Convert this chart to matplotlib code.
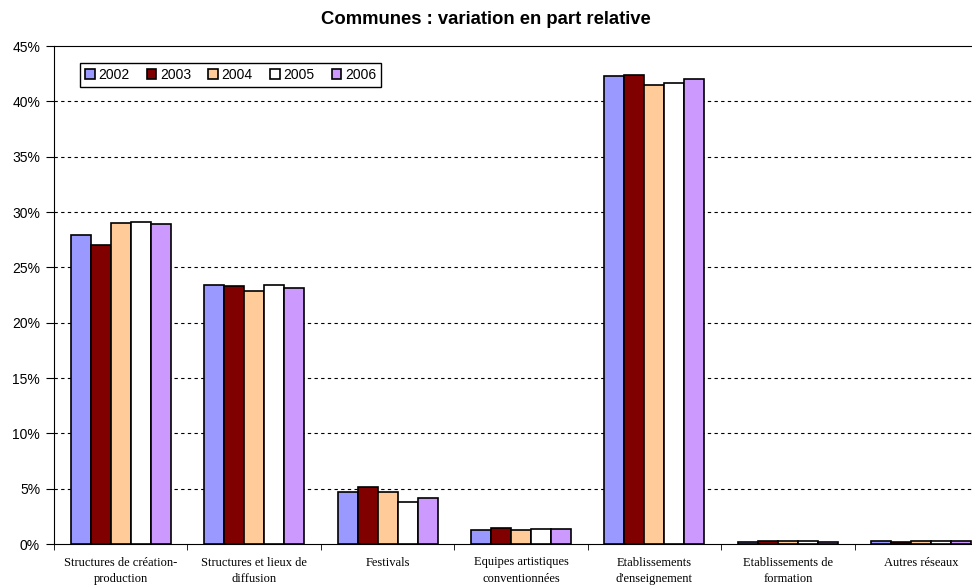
import matplotlib.pyplot as plt
import numpy as np

categories = ["Structures de création-\nproduction", "Structures et lieux de\ndiffusion",
              "Festivals", "Equipes artistiques\nconventionnées",
              "Etablissements\nd'enseignement", "Etablissements de\nformation",
              "Autres réseaux"]
years = ["2002", "2003", "2004", "2005", "2006"]
values = {
    "2002": [27.9, 23.4, 4.7, 1.26, 42.3, 0.18, 0.27],
    "2003": [27.0, 23.3, 5.15, 1.47, 42.4, 0.27, 0.15],
    "2004": [29.0, 22.9, 4.7, 1.26, 41.5, 0.27, 0.27],
    "2005": [29.1, 23.4, 3.77, 1.35, 41.7, 0.27, 0.27],
    "2006": [28.9, 23.1, 4.13, 1.35, 42.0, 0.2, 0.27],
}
colors = ["#9999FF", "#800000", "#FFCC99", "#FFFFFF", "#CC99FF"]

fig = plt.figure(figsize=(9.72, 5.85), dpi=100)
ax = fig.add_axes([54 / 972, 41 / 585, 934 / 972, 498 / 585])

x = np.arange(len(categories))
w = 0.15
for i, y in enumerate(years):
    ax.bar(x + (i - 2) * w, values[y], w, color=colors[i], edgecolor="black",
           linewidth=1.2, label=y, zorder=3)

ax.set_xlim(-0.5, len(categories) - 0.5)
ax.set_ylim(0, 45)
yt = np.arange(0, 46, 5)
ax.set_yticks(yt)
ax.set_yticklabels([f"{v}%" for v in yt], family="Liberation Sans", fontsize=10)
ax.set_xticks(x)
ax.set_xticklabels(categories, family="Liberation Serif", fontsize=9, linespacing=1.45)
ax.set_xticks(np.arange(-0.5, len(categories)), minor=True)
ax.tick_params(axis="x", which="major", length=0, pad=9)
ax.tick_params(axis="x", which="minor", length=4, direction="out")
ax.tick_params(axis="y", length=6, direction="out", pad=4)
for v in yt[1:-1]:
    ax.axhline(v, color="black", linestyle=(0, (3, 3)), linewidth=0.8, zorder=1)
for s in ["left", "bottom", "top"]:
    ax.spines[s].set_color("black")
ax.spines["right"].set_visible(False)

fig.text(0.5, 1 - 20 / 585, "Communes : variation en part relative", ha="center",
         va="center", family="Liberation Sans", fontweight="bold", fontsize=13.3)

leg = ax.legend(loc="upper left", bbox_to_anchor=(80 / 972, 1 - 63 / 585),
                bbox_transform=fig.transFigure, ncol=5, fancybox=False, framealpha=1,
                edgecolor="black", handlelength=0.7, handleheight=0.7, handletextpad=0.25,
                columnspacing=1.25, borderpad=0.35, borderaxespad=0,
                prop={"family": "Liberation Sans", "size": 10})
leg.get_frame().set_linewidth(1)

fig.savefig("out.png", dpi=100)
